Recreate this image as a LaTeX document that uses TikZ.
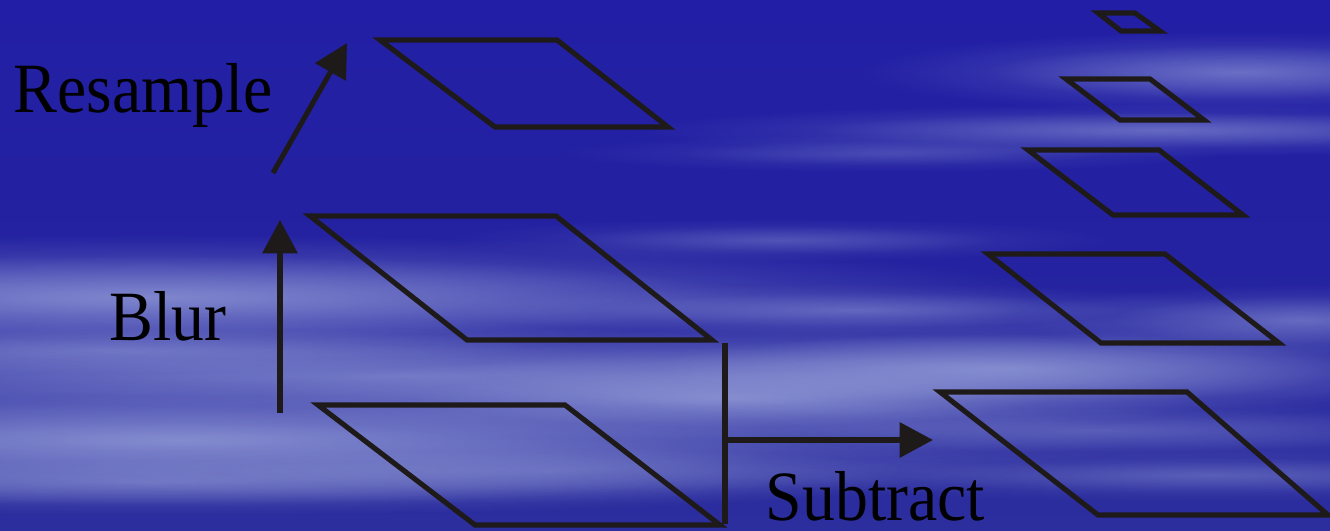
\documentclass[tikz,border=0pt]{standalone}
\usepackage{fontspec}
\setmainfont{Liberation Serif}
\usepackage{graphicx}
\usetikzlibrary{arrows.meta,fadings}
\definecolor{skyblue}{RGB}{34,31,166}
\definecolor{skymid}{RGB}{36,34,160}
\definecolor{skylow}{RGB}{44,46,158}
\definecolor{cloudc}{RGB}{156,166,220}
\definecolor{ink}{RGB}{30,26,26}
\tikzfading[name=softcloud, inner color=transparent!0, outer color=transparent!100]
\tikzset{
  plane/.style={draw=ink, line width=1.45pt, line join=miter},
  arr/.style={draw=ink, line width=1.45pt, -{Triangle[length=9.5pt,width=9.8pt]}},
  lbl/.style={inner sep=0pt, anchor=base west, text=black, font=\fontsize{18.7}{21}\selectfont},
  cloud/.style={fill=cloudc, path fading=softcloud}
}
% #1,#2 centre; #3,#4 half extents; #5 strength
\newcommand\skypuff[5]{%
  \pgfmathsetmacro\skyop{#5*0.6}%
  \pgfmathsetmacro\skyrxa{#3*2.4}\pgfmathsetmacro\skyrya{#4*2.4}%
  \pgfmathsetmacro\skyrxb{#3*1.6}\pgfmathsetmacro\skyryb{#4*1.6}%
  \fill[cloud, opacity=\skyop] (#1,#2) ellipse [x radius=\skyrxa, y radius=\skyrya];
  \fill[cloud, opacity=\skyop] (#1,#2) ellipse [x radius=\skyrxb, y radius=\skyryb];
}
\begin{document}
\begin{tikzpicture}[x=0.01cm, y=-0.01cm]
\useasboundingbox (0,0) rectangle (1330,531);
% background
\shade[top color=skyblue, bottom color=skylow, middle color=skymid] (0,0) rectangle (1330,531);
\begin{scope}
\clip (0,0) rectangle (1330,531);
\skypuff{150}{297}{380}{26}{0.85}
\skypuff{120}{350}{280}{14}{0.5}
\skypuff{400}{376}{480}{20}{0.65}
\skypuff{180}{440}{400}{28}{0.9}
\skypuff{150}{482}{320}{14}{0.5}
\skypuff{560}{470}{220}{14}{0.35}
\skypuff{730}{398}{200}{18}{0.75}
\skypuff{1000}{368}{220}{22}{0.8}
\skypuff{860}{310}{170}{11}{0.45}
\skypuff{780}{240}{140}{9}{0.35}
\skypuff{1100}{430}{220}{14}{0.4}
\skypuff{1210}{475}{200}{11}{0.4}
\skypuff{1300}{320}{120}{15}{0.55}
\skypuff{1240}{72}{160}{17}{0.6}
\skypuff{1160}{130}{220}{11}{0.55}
\skypuff{890}{153}{140}{8}{0.3}
\end{scope}
% left column planes
\draw[plane] (380,40) -- (557,40) -- (668,127) -- (495,127) -- cycle;
\draw[plane] (310,216) -- (556,216) -- (712,340) -- (467,340) -- cycle;
\draw[plane] (318,405) -- (565,405) -- (720,525) -- (475,525) -- cycle;
% right column planes
\draw[plane] (1098,13) -- (1135,13) -- (1160,31) -- (1121,31) -- cycle;
\draw[plane] (1066,79) -- (1150,79) -- (1204,120) -- (1120,120) -- cycle;
\draw[plane] (1028,150) -- (1159,150) -- (1243,215) -- (1113,215) -- cycle;
\draw[plane] (988,254) -- (1165,254) -- (1279,343) -- (1101,343) -- cycle;
\draw[plane] (940,392) -- (1187,392) -- (1328,515) -- (1098,515) -- cycle;
% connectors
\coordinate (blurS) at (280,413);
\coordinate (blurE) at (280,220);
\coordinate (resS) at (273,173);
\coordinate (resE) at (347,43);
\coordinate (subT) at (725,343);
\coordinate (subB) at (725,524);
\coordinate (subM) at (725,440);
\coordinate (subE) at (933,440);
\draw[arr] (blurS) -- (blurE);
\draw[arr] (resS) -- (resE);
\draw[plane] (subT) -- (subB);
\draw[arr] (subM) -- (subE);
% labels
\node[lbl] (resample) at (13,113) {\scalebox{1}[1.075]{Resample}};
\node[lbl] (blur) at (109,341) {\scalebox{1}[1.075]{Blur}};
\node[lbl] (subtract) at (765,521) {\scalebox{1}[1.075]{Subtract}};
\end{tikzpicture}
\end{document}
